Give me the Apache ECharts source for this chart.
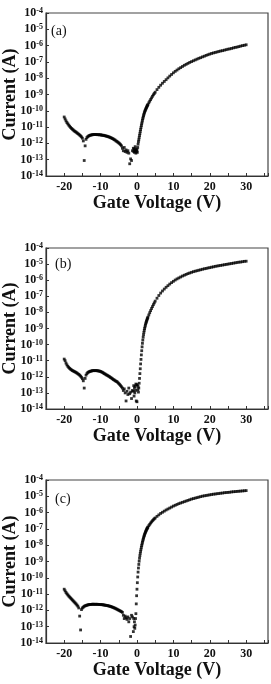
<!DOCTYPE html>
<html>
<head>
<meta charset="utf-8">
<title>Transfer curves</title>
<script src="https://cdn.jsdelivr.net/npm/echarts@6/dist/echarts.min.js"></script>
<style>
  html, body { margin: 0; padding: 0; background: #fff; }
  #chart { width: 271px; height: 684px; }
</style>
</head>
<body>
<div id="chart"></div>
<script>
// gate voltage sweep (V), shared by the three devices
const gateVoltage = [
  -20, -19.75, -19.5, -19.25, -19, -18.75, -18.5, -18.25, -18, -17.75, -17.5, -17.25, -17, -16.75, -16.5, -16.25, -16, -15.75, -15.5, -15.25,
  -15, -14.75, -14.5, -14.25, -14, -13.75, -13.5, -13.25, -13, -12.75, -12.5, -12.25, -12, -11.75, -11.5, -11.25, -11, -10.75, -10.5, -10.25,
  -10, -9.75, -9.5, -9.25, -9, -8.75, -8.5, -8.25, -8, -7.75, -7.5, -7.25, -7, -6.75, -6.5, -6.25, -6, -5.75, -5.5, -5.25,
  -5, -4.75, -4.5, -4.25, -4, -3.75, -3.5, -3.25, -3, -2.75, -2.5, -2.25, -2, -1.75, -1.5, -1.25,
  -1, -0.9, -0.8, -0.7, -0.6, -0.5, -0.4, -0.3, -0.2, -0.1, 0,
  0.1, 0.2, 0.3, 0.4, 0.5, 0.6, 0.7, 0.8, 0.9, 1,
  1.1, 1.2, 1.3, 1.4, 1.5, 1.6, 1.7, 1.8, 1.9, 2,
  2.1, 2.2, 2.3, 2.4, 2.5, 2.6, 2.7, 2.8, 2.9, 3,
  3.25, 3.5, 3.75, 4, 4.25, 4.5, 4.75, 5,
  5.5, 6, 6.5, 7, 7.5, 8, 8.5, 9, 9.5, 10,
  10.5, 11, 11.5, 12, 12.5, 13, 13.5, 14, 14.5, 15,
  15.5, 16, 16.5, 17, 17.5, 18, 18.5, 19, 19.5, 20,
  20.5, 21, 21.5, 22, 22.5, 23, 23.5, 24, 24.5, 25,
  25.5, 26, 26.5, 27, 27.5, 28, 28.5, 29, 29.5, 30
];

// log10 of current (A), panel (a)
const logCurrentA = [
  -10.38, -10.5, -10.62, -10.72, -10.8, -10.88, -10.95, -11.02, -11.08, -11.13, -11.18, -11.23, -11.27, -11.31, -11.35, -11.4, -11.44, -11.49, -11.54, -11.6,
  -11.68, -11.85, -13.05, -12.15, -11.75, -11.64, -11.58, -11.54, -11.51, -11.49, -11.48, -11.47, -11.46, -11.45, -11.46, -11.45, -11.46, -11.47, -11.46, -11.48,
  -11.47, -11.49, -11.5, -11.5, -11.52, -11.53, -11.55, -11.56, -11.58, -11.6, -11.62, -11.65, -11.67, -11.7, -11.73, -11.77, -11.8, -11.85, -11.88, -11.93,
  -11.97, -12.02, -12.08, -12.15, -12.3, -12.45, -12.25, -12.5, -12.4, -12.55, -12.45, -12.6, -13.25, -12.95, -13.05, -12.45,
  -12.3, -12.5, -12.35, -12.55, -12.4, -12.2, -12.45, -12.6, -12.35, -12.5, -12.4,
  -12.55, -12.25, -12.05, -11.9, -11.78, -11.65, -11.52, -11.4, -11.27, -11.15,
  -11.03, -10.91, -10.8, -10.69, -10.58, -10.48, -10.39, -10.3, -10.22, -10.14,
  -10.07, -10.01, -9.96, -9.9, -9.85, -9.8, -9.75, -9.7, -9.66, -9.62,
  -9.51, -9.41, -9.31, -9.21, -9.11, -9.02, -8.94, -8.86,
  -8.7, -8.56, -8.43, -8.31, -8.2, -8.09, -7.98, -7.87, -7.77, -7.67,
  -7.58, -7.5, -7.42, -7.35, -7.28, -7.21, -7.15, -7.09, -7.03, -6.98,
  -6.93, -6.88, -6.83, -6.78, -6.74, -6.69, -6.65, -6.6, -6.56, -6.52,
  -6.48, -6.45, -6.42, -6.39, -6.36, -6.33, -6.31, -6.28, -6.25, -6.22,
  -6.2, -6.17, -6.14, -6.11, -6.09, -6.06, -6.03, -6.0, -5.98, -5.95
];

// panel (b)
const logCurrentB = [
  -10.9, -11.0, -11.15, -11.26, -11.35, -11.42, -11.48, -11.53, -11.57, -11.61, -11.64, -11.67, -11.7, -11.73, -11.77, -11.81, -11.85, -11.9, -11.96, -12.03,
  -12.12, -12.25, -12.7, -12.1, -11.9, -11.8, -11.73, -11.7, -11.67, -11.65, -11.64, -11.62, -11.62, -11.61, -11.62, -11.61, -11.62, -11.63, -11.64, -11.65,
  -11.67, -11.7, -11.72, -11.76, -11.8, -11.83, -11.87, -11.9, -11.93, -11.97, -12.0, -12.05, -12.08, -12.12, -12.17, -12.2, -12.24, -12.28, -12.3, -12.36,
  -12.42, -12.48, -12.55, -12.62, -12.7, -12.85, -12.75, -13.0, -13.5, -12.9, -13.1, -12.7, -13.05, -12.95, -13.35, -12.85,
  -12.9, -12.55, -13.2, -12.7, -13.0, -12.6, -12.85, -12.45, -13.5, -12.5, -13.55,
  -12.5, -12.8, -12.6, -12.95, -12.7, -12.4, -12.1, -11.8, -11.5, -11.2,
  -10.92, -10.64, -10.38, -10.14, -9.92, -9.72, -9.54, -9.38, -9.24, -9.11,
  -9.0, -8.9, -8.8, -8.71, -8.63, -8.56, -8.49, -8.42, -8.36, -8.3,
  -8.16, -8.02, -7.89, -7.76, -7.64, -7.52, -7.41, -7.3,
  -7.12, -6.95, -6.8, -6.67, -6.55, -6.44, -6.34, -6.24, -6.15, -6.07,
  -5.99, -5.92, -5.86, -5.8, -5.74, -5.69, -5.64, -5.59, -5.55, -5.51,
  -5.47, -5.44, -5.41, -5.38, -5.35, -5.32, -5.29, -5.27, -5.24, -5.22,
  -5.19, -5.17, -5.14, -5.12, -5.1, -5.08, -5.06, -5.04, -5.02, -5.0,
  -4.98, -4.96, -4.94, -4.92, -4.9, -4.88, -4.87, -4.85, -4.83, -4.82
];

// panel (c)
const logCurrentC = [
  -10.7, -10.8, -10.9, -10.98, -11.05, -11.12, -11.18, -11.24, -11.3, -11.36, -11.42, -11.48, -11.54, -11.6, -11.67, -11.74, -11.85, -12.35, -13.2, -11.95,
  -11.85, -11.8, -11.75, -11.72, -11.7, -11.68, -11.66, -11.65, -11.64, -11.63, -11.63, -11.62, -11.62, -11.63, -11.62, -11.63, -11.62, -11.63, -11.63, -11.64,
  -11.64, -11.65, -11.65, -11.66, -11.67, -11.68, -11.69, -11.7, -11.71, -11.73, -11.74, -11.76, -11.78, -11.8, -11.82, -11.85, -11.87, -11.9, -11.93, -11.96,
  -11.99, -12.02, -12.05, -12.08, -12.12, -12.3, -12.5, -12.35, -12.45, -12.55, -12.4, -12.7, -12.5, -13.6, -12.3, -12.4,
  -13.3, -12.5, -13.0, -12.7, -13.1, -12.9, -12.5, -12.2, -11.6, -11.1, -10.7,
  -10.3, -9.95, -9.65, -9.4, -9.18, -8.98, -8.8, -8.64, -8.5, -8.37,
  -8.25, -8.13, -8.02, -7.92, -7.82, -7.73, -7.64, -7.56, -7.48, -7.41,
  -7.34, -7.28, -7.22, -7.16, -7.11, -7.06, -7.01, -6.97, -6.93, -6.89,
  -6.8, -6.72, -6.64, -6.57, -6.5, -6.44, -6.38, -6.33,
  -6.23, -6.14, -6.05, -5.98, -5.91, -5.84, -5.78, -5.72, -5.66, -5.6,
  -5.55, -5.5, -5.45, -5.41, -5.37, -5.33, -5.29, -5.25, -5.21, -5.17,
  -5.14, -5.11, -5.08, -5.05, -5.02, -4.99, -4.97, -4.95, -4.93, -4.91,
  -4.89, -4.87, -4.86, -4.84, -4.83, -4.81, -4.8, -4.78, -4.77, -4.76,
  -4.75, -4.73, -4.72, -4.71, -4.7, -4.69, -4.68, -4.67, -4.66, -4.65
];

const xTickLabels = [-20, -10, 0, 10, 20, 30];
const panelLabels = ['(a)', '(b)', '(c)'];

[logCurrentA, logCurrentB, logCurrentC].forEach(function (arr, i) {
  if (arr.length !== gateVoltage.length) {
    throw new Error('panel ' + i + ' has ' + arr.length + ' values, expected ' + gateVoltage.length)
  }
})

const serif = '"Liberation Serif", "Times New Roman", serif'

// plot boxes (px)
const boxes = [
  { top: 13, height: 163, labelLeft: 51, labelTop: 24 },
  { top: 248, height: 161, labelLeft: 55, labelTop: 257 },
  { top: 480, height: 163, labelLeft: 55, labelTop: 492 }
]
const seriesData = [logCurrentA, logCurrentB, logCurrentC]

const option = {
  animation: false,
  backgroundColor: '#fff',
  grid: [],
  xAxis: [],
  yAxis: [],
  series: [],
  graphic: []
}

boxes.forEach(function (b, i) {
  option.grid.push({
    left: 46,
    right: 3,
    top: b.top,
    height: b.height,
    containLabel: false,
    outerBoundsMode: 'none',
    show: true,
    borderColor: '#444',
    borderWidth: 1.2
  })
  option.xAxis.push({
    gridIndex: i,
    type: 'value',
    min: -25,
    max: 36,
    interval: 5,
    name: 'Gate Voltage (V)',
    nameLocation: 'middle',
    nameGap: 18,
    nameMoveOverlap: false,
    nameTextStyle: { fontFamily: serif, fontWeight: 'bold', fontSize: 18, color: '#111' },
    axisLine: { show: true, onZero: false, lineStyle: { color: '#333', width: 1.2 } },
    axisTick: { show: true, inside: true, length: 3, lineStyle: { color: '#333' } },
    axisLabel: {
      margin: 5,
      fontFamily: serif,
      fontWeight: 'bold',
      fontSize: 12,
      color: '#111',
      formatter: function (v) {
        return xTickLabels.indexOf(v) >= 0 ? String(v) : ''
      }
    },
    splitLine: { show: false }
  })
  option.yAxis.push({
    gridIndex: i,
    type: 'value',
    min: -14,
    max: -4,
    interval: 1,
    name: 'Current (A)',
    nameLocation: 'middle',
    nameGap: 27,
    nameMoveOverlap: false,
    nameTextStyle: { fontFamily: serif, fontWeight: 'bold', fontSize: 18, color: '#111' },
    axisLine: { show: true, onZero: false, lineStyle: { color: '#333', width: 1.2 } },
    axisTick: { show: true, inside: true, length: 3, lineStyle: { color: '#333' } },
    axisLabel: {
      margin: 3,
      formatter: function (v) {
        return '{b|10}{s|' + v + '}'
      },
      rich: {
        b: { fontFamily: serif, fontWeight: 'bold', fontSize: 12, color: '#111', lineHeight: 12, padding: [4, 0, 0, 0], verticalAlign: 'bottom' },
        s: { fontFamily: serif, fontWeight: 'bold', fontSize: 8, color: '#111', lineHeight: 8, verticalAlign: 'top' }
      }
    },
    splitLine: { show: false }
  })
  option.series.push({
    type: 'scatter',
    xAxisIndex: i,
    yAxisIndex: i,
    symbol: 'rect',
    symbolSize: 2.8,
    itemStyle: { color: '#000' },
    data: gateVoltage.map(function (v, k) { return [v, seriesData[i][k]] })
  })
  option.graphic.push({
    type: 'text',
    left: b.labelLeft,
    top: b.labelTop,
    style: { text: panelLabels[i], font: '14px ' + serif, fill: '#111' }
  })
})

const chart = echarts.init(document.getElementById('chart'))
chart.setOption(option)
</script>
</body>
</html>
